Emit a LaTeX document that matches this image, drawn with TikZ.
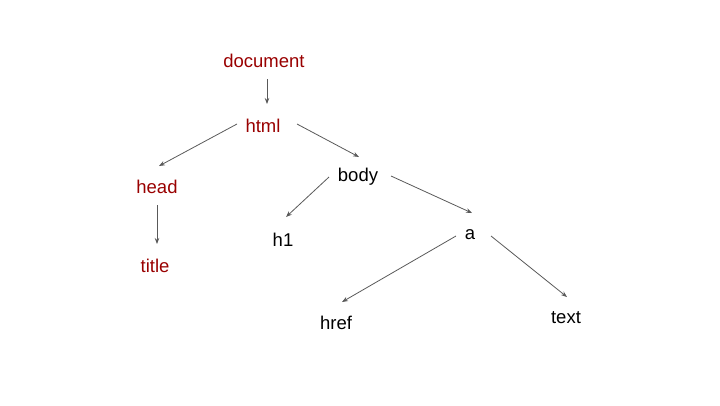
\documentclass[tikz,border=0pt]{standalone}
\usepackage{fontspec}
\setmainfont{Liberation Sans}
\usetikzlibrary{arrows.meta}
\definecolor{darkred}{HTML}{990000}
\definecolor{arrgray}{HTML}{595959}
\tikzset{
  lbl/.style={inner sep=0pt, font=\fontsize{18.5}{20}\selectfont, text=black},
  redlbl/.style={lbl, text=darkred},
  arr/.style={draw=arrgray, line width=0.8pt, -{Stealth[length=6pt,width=4.5pt]}}
}
\begin{document}
\begin{tikzpicture}[x=1pt,y=-1pt]
\useasboundingbox (0,0) rectangle (720,405);
\node[redlbl] (document) at (264,61) {document};
\node[redlbl] (html) at (263,126) {html};
\node[redlbl] (head) at (157,187) {head};
\node[redlbl] (title) at (155,266) {title};
\node[lbl] (body) at (358,177) {body};
\node[lbl] (h1) at (283,240) {h1};
\node[lbl] (a) at (470,235) {a};
\node[lbl] (href) at (336,323) {href};
\node[lbl] (text) at (566,318) {text};
\draw[arr] ([shift={(3,18)}]document.center) -- ([shift={(4,-22)}]html.center);
\draw[arr] ([shift={(-26,-2)}]html.center) -- ([shift={(2,-21)}]head.center);
\draw[arr] ([shift={(34,-2)}]html.center) -- ([shift={(1,-20)}]body.center);
\draw[arr] ([shift={(0,18)}]head.center) -- ([shift={(2,-22)}]title.center);
\draw[arr] ([shift={(-29,0)}]body.center) -- ([shift={(3,-23)}]h1.center);
\draw[arr] ([shift={(33,-1)}]body.center) -- ([shift={(2,-22)}]a.center);
\draw[arr] ([shift={(-14,1)}]a.center) -- ([shift={(6,-21)}]href.center);
\draw[arr] ([shift={(21,1)}]a.center) -- ([shift={(1,-21)}]text.center);
\end{tikzpicture}
\end{document}
